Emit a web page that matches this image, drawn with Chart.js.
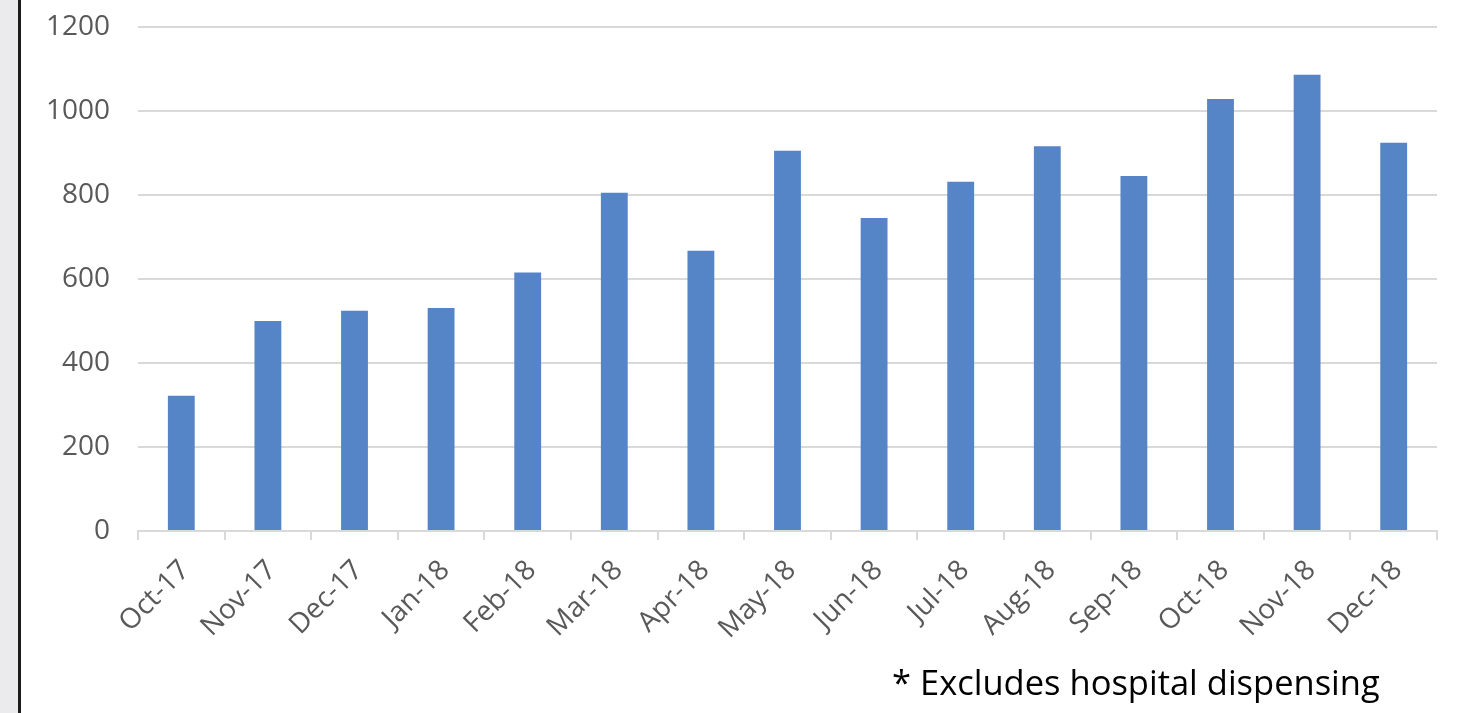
<!DOCTYPE html>
<html>
<head>
<meta charset="utf-8">
<script src="https://cdn.jsdelivr.net/npm/chart.js@4"></script>
<style>
  html, body { margin: 0; padding: 0; background: #fff; }
  body { width: 1457px; height: 713px; position: relative; overflow: hidden; }
  #strip { position: absolute; left: 0; top: 0; width: 18px; height: 713px; background: #ebebee; }
  #edge { position: absolute; left: 18px; top: 0; width: 3px; height: 713px; background: #1c1c1c; }
  #box { position: absolute; left: 22px; top: -18px; width: 1435px; height: 731px; }
  #note { position: absolute; left: 892px; top: 665px; font-family: "Open Sans", sans-serif;
          font-size: 34.5px; color: #000; white-space: nowrap; line-height: 1; }
</style>
</head>
<body>
<div id="strip"></div>
<div id="edge"></div>
<div id="box"><canvas id="dispChart"></canvas></div>
<div id="note">* Excludes hospital dispensing</div>
<script>
// datos del gráfico
const meses = ['Oct-17', 'Nov-17', 'Dec-17', 'Jan-18', 'Feb-18', 'Mar-18', 'Apr-18', 'May-18',
               'Jun-18', 'Jul-18', 'Aug-18', 'Sep-18', 'Oct-18', 'Nov-18', 'Dec-18'];
const valores = [322, 500, 524, 531, 615, 805, 667, 905, 745, 831, 916, 845, 1028, 1086, 924];
const ticksY = [0, 200, 400, 600, 800, 1000, 1200];

const gris = '#595959';
const fuente = { family: '"Open Sans", sans-serif', size: 28 };

const ctx = document.getElementById('dispChart').getContext('2d');

const dispChart = new Chart(ctx, {
    type: 'bar',
    data: {
        labels: meses,
        datasets: [{
            data: valores,
            backgroundColor: '#5585c6',
            borderWidth: 0,
            categoryPercentage: 1,
            barPercentage: 0.31
        }]
    },
    options: {
        responsive: true,
        maintainAspectRatio: false,
        animation: false,
        layout: { padding: { top: 8, right: 20, bottom: 0, left: 0 } },
        plugins: {
            legend: { display: false },
            tooltip: { enabled: false }
        },
        scales: {
            x: {
                afterFit: (s) => { s.height = 182; },
                grid: { drawOnChartArea: false, drawTicks: true, tickLength: 9, color: '#d9d9d9', lineWidth: 2 },
                border: { color: '#d9d9d9', width: 2 },
                ticks: { color: gris, font: fuente, minRotation: 45, maxRotation: 45, padding: 14, labelOffset: 4, autoSkip: false }
            },
            y: {
                min: 0,
                max: 1200,
                afterFit: (s) => { s.width = 116; },
                afterBuildTicks: (s) => { s.ticks = ticksY.map(v => ({ value: v })); },
                grid: { color: '#d9d9d9', lineWidth: 2, drawTicks: false },
                border: { display: false },
                ticks: { color: gris, font: fuente, padding: 28, callback: (v) => String(v) }
            }
        }
    }
});
</script>
</body>
</html>
